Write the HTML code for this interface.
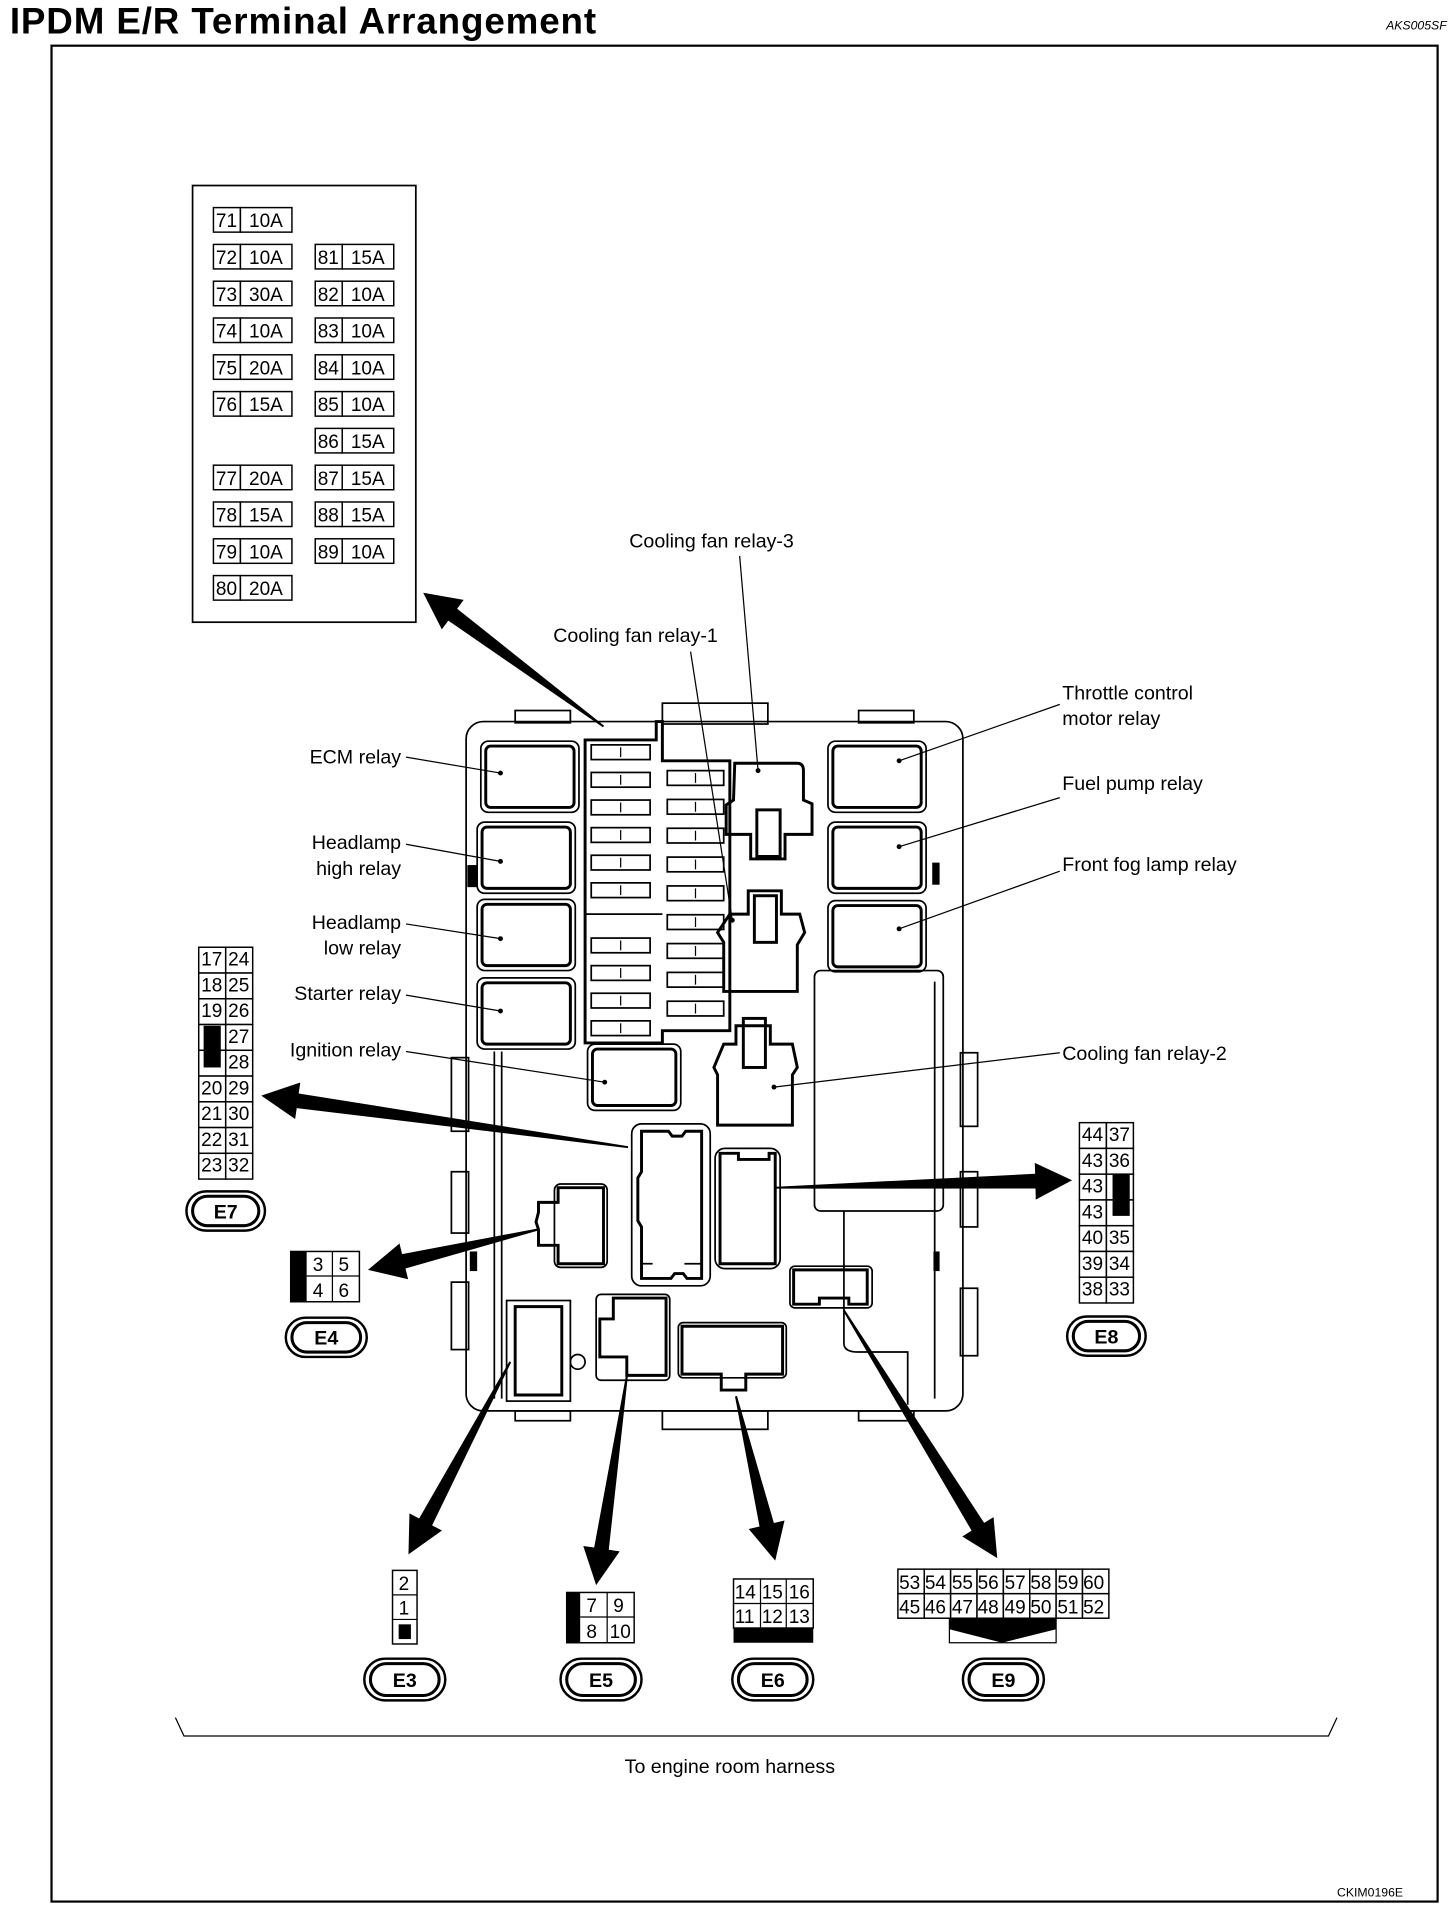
<!DOCTYPE html>
<html><head><meta charset="utf-8"><style>
html,body{margin:0;padding:0;background:#fff;}
svg{display:block;}
text{font-family:"Liberation Sans",sans-serif;fill:#000;}
.l{font-size:16px;}
.c{font-size:15.5px;}
.s{fill:none;stroke:#000;stroke-width:1.4;}
.t{fill:none;stroke:#000;stroke-width:2.4;}
.cell{fill:#fff;stroke:#000;stroke-width:1.2;}
</style></head><body>
<svg id="sv" width="1456" height="1908" viewBox="0 0 1187 1555" xmlns="http://www.w3.org/2000/svg">
<rect x="0" y="0" width="1187" height="1555" fill="#fff"/>
<text x="8" y="27" style="font-size:30px;font-weight:bold" textLength="478">IPDM E/R Terminal Arrangement</text>
<text x="1130" y="24" style="font-size:10px;font-style:italic">AKS005SF</text>
<rect x="42" y="37" width="1130" height="1513" fill="none" stroke="#000" stroke-width="1.8"/>

<rect x="157" y="151" width="182" height="356" class="s"/>
<g id="fuses"></g>
<g class="c">
<text x="176" y="185">71</text><text x="203" y="185">10A</text>
<text x="176" y="215">72</text><text x="203" y="215">10A</text>
<text x="176" y="245">73</text><text x="203" y="245">30A</text>
<text x="176" y="275">74</text><text x="203" y="275">10A</text>
<text x="176" y="305">75</text><text x="203" y="305">20A</text>
<text x="176" y="335">76</text><text x="203" y="335">15A</text>
<text x="176" y="395">77</text><text x="203" y="395">20A</text>
<text x="176" y="425">78</text><text x="203" y="425">15A</text>
<text x="176" y="455">79</text><text x="203" y="455">10A</text>
<text x="176" y="485">80</text><text x="203" y="485">20A</text>
<text x="259" y="215">81</text><text x="286" y="215">15A</text>
<text x="259" y="245">82</text><text x="286" y="245">10A</text>
<text x="259" y="275">83</text><text x="286" y="275">10A</text>
<text x="259" y="305">84</text><text x="286" y="305">10A</text>
<text x="259" y="335">85</text><text x="286" y="335">10A</text>
<text x="259" y="365">86</text><text x="286" y="365">15A</text>
<text x="259" y="395">87</text><text x="286" y="395">15A</text>
<text x="259" y="425">88</text><text x="286" y="425">15A</text>
<text x="259" y="455">89</text><text x="286" y="455">10A</text>
</g>

<g id="box">
<rect x="380" y="588" width="405" height="562" rx="14" class="s"/>
<rect x="540" y="573" width="86" height="17" class="s"/>
<rect x="420" y="579" width="45" height="10" class="s"/>
<rect x="700" y="579" width="45" height="10" class="s"/>
<rect x="540" y="1150" width="86" height="15" class="s"/>
<rect x="420" y="1150" width="45" height="8" class="s"/>
<rect x="700" y="1150" width="45" height="8" class="s"/>
<line x1="403" y1="857" x2="403" y2="1140" class="s"/>
<line x1="409" y1="857" x2="409" y2="1140" class="s"/>
<rect x="664" y="791" width="105" height="196" rx="5" class="s"/>
<line x1="688" y1="987" x2="688" y2="1095" class="s"/>
<line x1="762" y1="800" x2="762" y2="1140" class="s"/>
<path d="M688 1095 Q688 1102 700 1102 L740 1102 L740 1145" class="s"/>
<rect x="368" y="862" width="14" height="60" class="s"/><rect x="368" y="955" width="14" height="50" class="s"/><rect x="368" y="1045" width="14" height="55" class="s"/>
<rect x="783" y="858" width="14" height="60" class="s"/><rect x="783" y="955" width="14" height="45" class="s"/><rect x="783" y="1050" width="14" height="55" class="s"/>
<rect x="381" y="705" width="8" height="18" fill="#000"/>
<rect x="760" y="703" width="6" height="18" fill="#000"/>
<rect x="383" y="1020" width="6" height="16" fill="#000"/>
<rect x="761" y="1020" width="5" height="16" fill="#000"/>
<rect x="392" y="604" width="80" height="58" rx="6" class="s"/><rect x="396" y="608" width="72" height="50" rx="4" class="t"/>
<rect x="389" y="670" width="80" height="58" rx="6" class="s"/><rect x="393" y="674" width="72" height="50" rx="4" class="t"/>
<rect x="389" y="733" width="80" height="58" rx="6" class="s"/><rect x="393" y="737" width="72" height="50" rx="4" class="t"/>
<rect x="389" y="797" width="80" height="58" rx="6" class="s"/><rect x="393" y="801" width="72" height="50" rx="4" class="t"/>
<rect x="675" y="604" width="80" height="58" rx="6" class="s"/><rect x="679" y="608" width="72" height="50" rx="4" class="t"/>
<rect x="675" y="670" width="80" height="58" rx="6" class="s"/><rect x="679" y="674" width="72" height="50" rx="4" class="t"/>
<rect x="675" y="734" width="80" height="58" rx="6" class="s"/><rect x="679" y="738" width="72" height="50" rx="4" class="t"/>
<rect x="479" y="851" width="76" height="54" rx="6" class="s"/><rect x="483" y="855" width="68" height="46" rx="4" class="t"/>
<path d="M477 603 L535 603 L535 588 L540 588 L540 620 L595 620 L595 840 L540 840 L540 850 L477 850 L477 750 L477 603 Z" class="t"/>
<line x1="477" y1="745" x2="540" y2="745" class="s"/>
<g id="fb"></g>
<path d="M599 622 L650 622 Q655 622 655 628 L655 652 L662 655 L662 680 L640 680 L640 700 L612 700 L612 680 L592 680 L592 656 L598 652 Z" class="t"/>
<rect x="617" y="660" width="19" height="38" class="t"/>
<path d="M595 745 L610 745 L610 726 L637 726 L637 745 L652 745 L656 760 L650 770 L650 808 L590 808 L590 768 L585 760 Z" class="t"/>
<rect x="615" y="730" width="18" height="38" class="t"/>
<path d="M590 851 L600 851 L600 836 L628 836 L628 851 L646 851 L650 870 L646 876 L646 917 L585 917 L585 876 L582 870 Z" class="t"/>
<rect x="606" y="830" width="18" height="40" class="t"/>
<!-- tall connector -->
<path d="M523 922 L545 922 L548 926 L556 926 L559 922 L572 922 L572 1042 L560 1042 L557 1038 L550 1038 L547 1042 L523 1042 L523 1000 L520 995 L520 960 L523 955 Z" class="t"/>
<rect x="515" y="916" width="64" height="132" rx="8" class="s"/>
<line x1="522" y1="1030" x2="532" y2="1030" class="s"/><line x1="558" y1="1030" x2="572" y2="1030" class="s"/>
<path d="M587 940 L602 940 L602 945 L627 945 L627 940 L632 940 L632 1030 L587 1030 Z" class="t"/>
<rect x="583" y="936" width="53" height="98" rx="8" class="s"/>
<path d="M455 968 L492 968 L492 1030 L455 1030 L455 1015 L439 1015 L439 1002 L437 996 L439 988 L439 980 L455 980 Z" class="t"/>
<rect x="452" y="965" width="43" height="68" rx="5" class="s"/>
<path d="M420 1065 L458 1065 L458 1137 L420 1137 Z" class="t"/>
<rect x="413" y="1060" width="52" height="82" class="s"/>
<circle cx="471" cy="1110" r="6" class="s"/>
<path d="M500 1058 L543 1058 L543 1121 L511 1121 L511 1106 L489 1106 L489 1075 L500 1075 Z" class="t"/>
<rect x="486" y="1055" width="60" height="70" rx="4" class="s"/>
<path d="M556 1081 L638 1081 L638 1120 L608 1120 L608 1133 L588 1133 L588 1120 L556 1120 Z" class="t"/>
<rect x="553" y="1078" width="88" height="45" rx="4" class="s"/>
<path d="M647 1035 L707 1035 L707 1063 L692 1063 L692 1058 L668 1058 L668 1063 L647 1063 Z" class="t"/>
<rect x="644" y="1032" width="67" height="34" rx="4" class="s"/>
</g>

<g id="arr"></g>

<g class="l">
<text x="513" y="446">Cooling fan relay-3</text>
<text x="451" y="523">Cooling fan relay-1</text>
<text x="866" y="570">Throttle control</text>
<text x="866" y="591">motor relay</text>
<text x="866" y="644">Fuel pump relay</text>
<text x="866" y="710">Front fog lamp relay</text>
<text x="866" y="864">Cooling fan relay-2</text>
<text x="327" y="622" text-anchor="end">ECM relay</text>
<text x="327" y="692" text-anchor="end">Headlamp</text>
<text x="327" y="713" text-anchor="end">high relay</text>
<text x="327" y="757" text-anchor="end">Headlamp</text>
<text x="327" y="778" text-anchor="end">low relay</text>
<text x="327" y="815" text-anchor="end">Starter relay</text>
<text x="327" y="861" text-anchor="end">Ignition relay</text>
<text x="595" y="1445" text-anchor="middle">To engine room harness</text>
</g>
<g stroke="#000" stroke-width="1" fill="none">
<line x1="603" y1="453" x2="618" y2="628"/>
<line x1="563" y1="531" x2="597" y2="750"/>
<line x1="864" y1="574" x2="733" y2="620"/>
<line x1="864" y1="650" x2="733" y2="690"/>
<line x1="864" y1="710" x2="733" y2="757"/>
<line x1="864" y1="858" x2="631" y2="886"/>
<line x1="331" y1="617" x2="408" y2="630"/>
<line x1="331" y1="688" x2="408" y2="702"/>
<line x1="331" y1="753" x2="408" y2="765"/>
<line x1="331" y1="811" x2="408" y2="824"/>
<line x1="331" y1="857" x2="493" y2="882"/>
<path d="M143 1400 L150 1415 L1083 1415 L1090 1400"/>
</g>
<g fill="#000">
<circle cx="618" cy="628" r="2"/><circle cx="597" cy="750" r="2"/><circle cx="733" cy="620" r="2"/><circle cx="733" cy="690" r="2"/><circle cx="733" cy="757" r="2"/><circle cx="631" cy="886" r="2"/><circle cx="408" cy="630" r="2"/><circle cx="408" cy="702" r="2"/><circle cx="408" cy="765" r="2"/><circle cx="408" cy="824" r="2"/><circle cx="493" cy="882" r="2"/>
</g>

<g id="e7"></g>
<rect x="166" y="836" width="14" height="34" fill="#000"/>
<g class="c">
<text x="164" y="787">17</text><text x="186" y="787">24</text>
<text x="164" y="808">18</text><text x="186" y="808">25</text>
<text x="164" y="829">19</text><text x="186" y="829">26</text>
<text x="186" y="850">27</text><text x="186" y="871">28</text>
<text x="164" y="892">20</text><text x="186" y="892">29</text>
<text x="164" y="913">21</text><text x="186" y="913">30</text>
<text x="164" y="934">22</text><text x="186" y="934">31</text>
<text x="164" y="955">23</text><text x="186" y="955">32</text>
</g>
<g id="e8"></g>
<rect x="907" y="957" width="14" height="34" fill="#000"/>
<g class="c">
<text x="882" y="930">44</text><text x="904" y="930">37</text>
<text x="882" y="951">43</text><text x="904" y="951">36</text>
<text x="882" y="972">43</text><text x="882" y="993">43</text>
<text x="882" y="1014">40</text><text x="904" y="1014">35</text>
<text x="882" y="1035">39</text><text x="904" y="1035">34</text>
<text x="882" y="1056">38</text><text x="904" y="1056">33</text>
</g>
<rect x="237" y="1020" width="56" height="41" class="cell"/>
<rect x="237" y="1020" width="13" height="41" fill="#000"/>
<line x1="271" y1="1020" x2="271" y2="1061" stroke="#000"/>
<line x1="250" y1="1040" x2="293" y2="1040" stroke="#000"/>
<g class="c"><text x="255" y="1036">3</text><text x="276" y="1036">5</text><text x="255" y="1057">4</text><text x="276" y="1057">6</text></g>
<rect x="320" y="1280" width="20" height="60" class="cell"/>
<line x1="320" y1="1300" x2="340" y2="1300" stroke="#000"/><line x1="320" y1="1320" x2="340" y2="1320" stroke="#000"/>
<rect x="325" y="1324" width="10" height="12" fill="#000"/>
<g class="c"><text x="325" y="1296">2</text><text x="325" y="1316">1</text></g>
<rect x="462" y="1298" width="55" height="41" class="cell"/>
<rect x="462" y="1298" width="11" height="41" fill="#000"/>
<line x1="495" y1="1298" x2="495" y2="1339" stroke="#000"/><line x1="473" y1="1318" x2="517" y2="1318" stroke="#000"/>
<g class="c"><text x="478" y="1314">7</text><text x="500" y="1314">9</text><text x="478" y="1335">8</text><text x="497" y="1335">10</text></g>
<rect x="598" y="1287" width="65" height="40" class="cell"/>
<rect x="598" y="1327" width="65" height="12" fill="#000"/>
<line x1="620" y1="1287" x2="620" y2="1327" stroke="#000"/><line x1="641" y1="1287" x2="641" y2="1327" stroke="#000"/><line x1="598" y1="1307" x2="663" y2="1307" stroke="#000"/>
<g class="c"><text x="599" y="1303">14</text><text x="621" y="1303">15</text><text x="643" y="1303">16</text><text x="599" y="1323">11</text><text x="621" y="1323">12</text><text x="643" y="1323">13</text></g>
<g id="e9"></g>
<path d="M774 1319 L861 1319 L861 1328 L817 1339 L774 1328 Z" fill="#000"/>
<path d="M774 1319 L774 1339 L861 1339 L861 1319" fill="none" stroke="#000"/>
<g class="c">
<text x="733" y="1295">53</text><text x="754" y="1295">54</text><text x="776" y="1295">55</text><text x="797" y="1295">56</text><text x="819" y="1295">57</text><text x="840" y="1295">58</text><text x="862" y="1295">59</text><text x="883" y="1295">60</text>
<text x="733" y="1315">45</text><text x="754" y="1315">46</text><text x="776" y="1315">47</text><text x="797" y="1315">48</text><text x="819" y="1315">49</text><text x="840" y="1315">50</text><text x="862" y="1315">51</text><text x="883" y="1315">52</text>
</g>
<g stroke="#000" fill="none">
<rect x="152" y="971" width="64" height="32" rx="16" stroke-width="2"/><rect x="157" y="975" width="54" height="24" rx="12" stroke-width="2.5"/>
<rect x="870" y="1073" width="64" height="32" rx="16" stroke-width="2"/><rect x="875" y="1077" width="54" height="24" rx="12" stroke-width="2.5"/>
<rect x="233" y="1074" width="66" height="32" rx="16" stroke-width="2"/><rect x="238" y="1078" width="56" height="24" rx="12" stroke-width="2.5"/>
<rect x="297" y="1352" width="66" height="34" rx="17" stroke-width="2"/><rect x="302" y="1356" width="56" height="26" rx="13" stroke-width="2.5"/>
<rect x="457" y="1352" width="66" height="34" rx="17" stroke-width="2"/><rect x="462" y="1356" width="56" height="26" rx="13" stroke-width="2.5"/>
<rect x="597" y="1352" width="66" height="34" rx="17" stroke-width="2"/><rect x="602" y="1356" width="56" height="26" rx="13" stroke-width="2.5"/>
<rect x="785" y="1352" width="66" height="34" rx="17" stroke-width="2"/><rect x="790" y="1356" width="56" height="26" rx="13" stroke-width="2.5"/>
</g>
<g style="font-size:16px;font-weight:bold" text-anchor="middle">
<text x="184" y="993">E7</text><text x="902" y="1095">E8</text><text x="266" y="1096">E4</text>
<text x="330" y="1375">E3</text><text x="490" y="1375">E5</text><text x="630" y="1375">E6</text><text x="818" y="1375">E9</text>
</g>
<text x="1090" y="1546" style="font-size:10px">CKIM0196E</text>
</svg>
<script>
var NS="http://www.w3.org/2000/svg";
function el(p,t,a){var e=document.createElementNS(NS,t);for(var k in a)e.setAttribute(k,a[k]);document.getElementById(p).appendChild(e);return e;}
var L=[169,199,229,259,289,319,379,409,439,469],R=[199,229,259,289,319,349,379,409,439];
L.forEach(function(y){el("fuses","rect",{x:174,y:y,width:22,height:20,"class":"cell"});el("fuses","rect",{x:196,y:y,width:42,height:20,"class":"cell"});});
R.forEach(function(y){el("fuses","rect",{x:257,y:y,width:22,height:20,"class":"cell"});el("fuses","rect",{x:279,y:y,width:42,height:20,"class":"cell"});});
for(var i=0;i<11;i++){var y=607+i*22.5; if(y>735&&y<752) continue; el("fb","rect",{x:482,y:y,width:48,height:12,"class":"s"});el("fb","line",{x1:506,y1:y+2,x2:506,y2:y+10,stroke:"#000"});}
for(var i=0;i<9;i++){var y=628+i*23.5;el("fb","rect",{x:544,y:y,width:46,height:12,"class":"s"});el("fb","line",{x1:567,y1:y+2,x2:567,y2:y+10,stroke:"#000"});}
function grid(id,x,y,cols,rows,w,h){for(var r=0;r<rows;r++)for(var c=0;c<cols;c++)el(id,"rect",{x:x+c*w,y:y+r*h,width:w,height:h,"class":"cell"});}
grid("e7",162,772,2,9,22,21);
grid("e8",880,915,2,7,22,21);
grid("e9",732,1279,8,2,21.5,20);
function arrow(sx,sy,ex,ey){var dx=ex-sx,dy=ey-sy,d=Math.sqrt(dx*dx+dy*dy);dx/=d;dy/=d;var nx=-dy,ny=dx,HL=30,bx=ex-dx*HL,by=ey-dy*HL;
function p(x,y,k){return (x+nx*k).toFixed(1)+","+(y+ny*k).toFixed(1);}
el("arr","polygon",{points:[p(sx,sy,0.8),p(bx,by,6),p(bx,by,15),p(ex,ey,0),p(bx,by,-15),p(bx,by,-6),p(sx,sy,-0.8)].join(" "),fill:"#000"});}
arrow(492,592,345,483);
arrow(512,935,213,893);
arrow(439,1002,300,1035);
arrow(633,968,874,962);
arrow(416,1110,333,1267);
arrow(511,1122,486,1292);
arrow(600,1138,632,1272);
arrow(688,1068,813,1270);
</script>
</body></html>
